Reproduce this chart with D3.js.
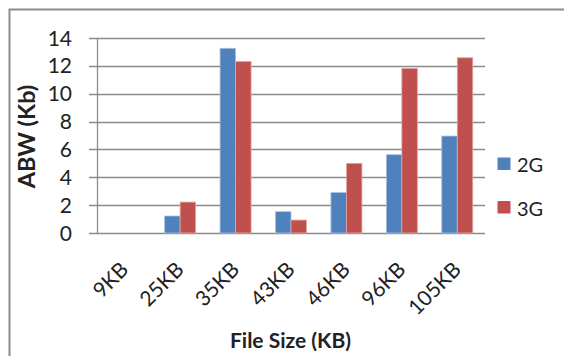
<!DOCTYPE html>
<html>
<head>
<meta charset="utf-8">
<script src="https://cdn.jsdelivr.net/npm/d3@7"></script>
<style>
  html, body { margin: 0; padding: 0; background: #fff; }
  svg { display: block; font-family: Lato, "Open Sans", sans-serif; }
</style>
</head>
<body>
<svg id="chart" width="564" height="356"></svg>
<script>
// File sizes tested and measured available bandwidth per network type
const categories = ["9KB", "25KB", "35KB", "43KB", "46KB", "96KB", "105KB"];
const series = ["2G", "3G"];
const abw2G = [0, 1.22, 13.26, 1.53, 2.9, 5.62, 6.96];
const abw3G = [0, 2.22, 12.32, 0.93, 5.0, 11.82, 12.58];
const yTicks = [0, 2, 4, 6, 8, 10, 12, 14];
const colors = ["#4F81BD", "#C0504D"];

const svg = d3.select("#chart");
const plot = { left: 97, right: 485, top: 38, bottom: 233 };

// outer chart frame (extends past the right and bottom edges)
svg.append("rect")
  .attr("x", 9.5).attr("y", 9.5)
  .attr("width", 600).attr("height", 400)
  .attr("fill", "none").attr("stroke", "#8c8c8c").attr("stroke-width", 2);

const x = d3.scaleBand().domain(categories).range([plot.left, plot.right]).paddingInner(0).paddingOuter(0);
const y = d3.scaleLinear().domain([0, 14]).range([plot.bottom, plot.top]);
const x1 = d3.scaleBand().domain(series).range([x.bandwidth() / 2 - 15.5, x.bandwidth() / 2 + 15.5]);

// horizontal gridlines with small outside tick marks
svg.append("g").selectAll("line").data(yTicks).join("line")
  .attr("x1", plot.left - 8).attr("x2", plot.right)
  .attr("y1", d => Math.round(y(d)) + 0.5).attr("y2", d => Math.round(y(d)) + 0.5)
  .attr("stroke", "#8a8a8a").attr("stroke-width", 1.3);

// y axis line
svg.append("line")
  .attr("x1", plot.left + 0.5).attr("x2", plot.left + 0.5)
  .attr("y1", plot.top).attr("y2", plot.bottom)
  .attr("stroke", "#8a8a8a").attr("stroke-width", 1.3);

// y tick labels
svg.append("g").selectAll("text").data(yTicks).join("text")
  .attr("x", 72).attr("y", d => y(d))
  .attr("dy", "0.36em")
  .attr("text-anchor", "end")
  .attr("font-size", 21).attr("fill", "#222")
  .text(d => d);

// bars
const data = categories.map((c, i) => ({ cat: c, values: [abw2G[i], abw3G[i]] }));
const groups = svg.append("g").selectAll("g").data(data).join("g")
  .attr("transform", d => `translate(${x(d.cat)},0)`);
groups.selectAll("rect").data(d => d.values.map((v, j) => ({ key: series[j], v, j })))
  .join("rect")
  .attr("x", d => x1(d.key))
  .attr("width", x1.bandwidth())
  .attr("y", d => y(d.v))
  .attr("height", d => y(0) - y(d.v))
  .attr("fill", d => colors[d.j])
  .attr("stroke", d => d.j === 0 ? "#a9c0de" : "#e0a8a6")
  .attr("stroke-width", 0.8);

// x tick labels, rotated
svg.append("g").selectAll("text").data(categories).join("text")
  .attr("transform", d => `translate(${x(d) + x.bandwidth() / 2 + 5},${271}) rotate(-45)`)
  .attr("text-anchor", "end")
  .attr("font-size", 21).attr("fill", "#222")
  .text(d => d);

// axis titles
svg.append("text")
  .attr("transform", "translate(34.5,136.5) rotate(-90)")
  .attr("text-anchor", "middle")
  .attr("font-size", 23.5).attr("font-weight", "bold").attr("fill", "#222")
  .text("ABW (Kb)");

svg.append("text")
  .attr("x", 290.5).attr("y", 348)
  .attr("text-anchor", "middle")
  .attr("font-size", 21).attr("font-weight", "bold").attr("fill", "#222")
  .text("File Size (KB)");

// legend
const legend = svg.append("g").selectAll("g").data(series).join("g")
  .attr("transform", (d, i) => `translate(497.5,${157.5 + i * 43.5})`);
legend.append("rect")
  .attr("width", 13).attr("height", 12.5)
  .attr("fill", (d, i) => colors[i]);
legend.append("text")
  .attr("x", 19.5).attr("y", 14.5)
  .attr("font-size", 20).attr("fill", "#222")
  .text(d => d);
</script>
</body>
</html>
